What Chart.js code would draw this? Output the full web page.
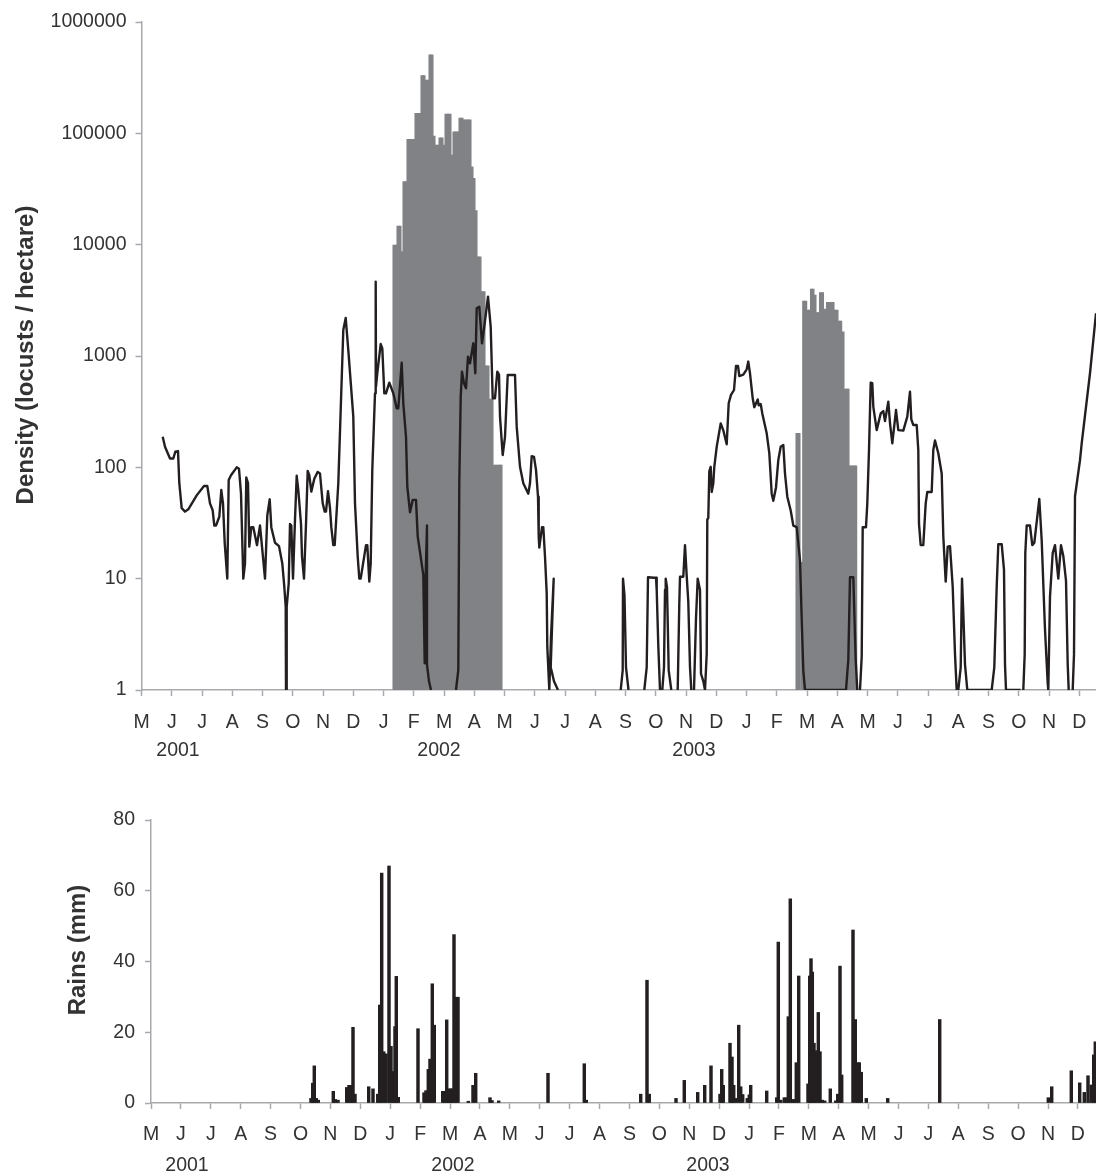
<!DOCTYPE html>
<html>
<head>
<meta charset="utf-8">
<title>Locust density and rains</title>
<script src="https://cdn.jsdelivr.net/npm/chart.js@4"></script>
<style>
  html, body { margin: 0; background: #fff; }
  canvas { position: absolute; left: 0; display: block; }
  #densityChart { top: 0; }
  #rainChart { top: 780px; }
</style>
</head>
<body>
<canvas id="densityChart" width="1096" height="780"></canvas>
<canvas id="rainChart" width="1096" height="396"></canvas>
<script>
// x axis is days counted from May 2001
const monthLabels = ['M','J','J','A','S','O','N','D','J','F','M','A','M','J','J','A','S','O','N','D','J','F','M','A','M','J','J','A','S','O','N','D'];
const yearLabels = ['2001', '2002', '2003'];
const densityTicks = [1, 10, 100, 1000, 10000, 100000, 1000000];
const rainTicks = [0, 20, 40, 60, 80];

// locusts per hectare, black line. null = a break in the line
const densityDays = [21.2,23.5,28.5,31.8,33.8,36.5,37.8,40.2,43.5,46.8,55.2,62.5,65.8,68.5,71.2,72.8,74.5,77.8,79.8,81.5,83.2,85.8,87.2,89.5,95.2,97.5,99.5,101.8,103.5,104.8,106.5,107.8,109.8,111.8,115.5,118.5,120.5,123.5,125.8,128.2,129.8,133.5,137.5,140.8,142.8,144.2,144.5,145.2,147.2,148.5,149.8,151.5,153.5,155.2,156.8,159.5,160.5,162.5,164.5,166.2,167.8,169.8,172.8,176.2,178.5,181.2,183.2,184.5,186.5,188.5,189.8,191.8,193.2,196.8,199.2,201.8,204.2,206.8,211.8,213.5,216.2,217.8,219.2,224.5,225.8,227.8,229.2,230.8,233.5,234.2,234.5,235.8,239.2,240.8,242.8,244.5,247.8,251.8,255.2,256.8,260.2,261.8,264.5,265.8,268.5,271.2,274.5,276.2,281.8,283.2,283.8,285.5,285.5,287.5,289.5,300,
  314.5,316.8,317.8,319.2,320.5,322.5,324.5,326.5,328.5,331.8,333.8,335.2,337.8,340.5,343.2,346.5,349.2,351.2,353.5,355.8,357.5,358.5,361.2,363.5,366.2,373.5,375.2,378.5,381.8,386.8,388.5,390.2,392.5,394.5,396.5,397.2,397.8,400.5,401.8,403.5,405.2,405.8,407.8,409.5,412.2,410.2,409.2,412.5,416.5,450,
  479.2,481.2,481.5,483,484.5,487,495,
  502.8,505.2,506.5,512.5,514.5,515.2,516.8,518.5,519.5,
  520.8,522.5,523.5,524.2,525.5,527.2,529.8,533,
  536.2,537.8,538.5,541.8,543.5,545.2,546.8,548.5,549.8,551,
  552.5,554.5,556.2,558.5,559.5,561.8,563.5,565.2,565.8,566.8,567.8,569.2,570.2,571.8,572.8,575.2,579.2,581.8,585.2,587.2,589.5,592.5,594.5,596.5,597.8,601.8,605.2,606.8,608.5,611.2,612.8,616.2,617.2,619.2,620.8,625.2,627.8,630.2,631.8,634.5,636.8,639.2,641.8,643.5,645.8,649.2,651.8,655.2,658.5,660.2,661.8,663.5,667.8,703.5,704.5,706.8,708.5,711.8,714.2,715.8,717,
  718.5,720.2,721.2,724.5,725.8,727.5,729.2,730.8,731.8,735.2,739.2,741.8,743.5,746.8,748.5,750.8,754.5,756.8,761.8,765.8,768.5,769.8,771.8,775.2,776.8,777.5,779.2,781.8,784.2,785.8,790.2,791.8,793.5,796.8,800.2,801.8,804.2,806.2,808.5,811.2,813.5,815.2,816,
  816.8,819.2,820.5,821.8,823.5,825.8,850.2,852.8,855.2,856.8,860.2,862.5,863.5,864.5,879.2,880.5,
  881.8,883.2,883.8,885.2,888.5,890.8,892.8,895.8,897.8,900.2,903.5,906.2,906.8,908.5,911.2,913.5,916.8,919.5,921.8,924.5,926.2,927.2,929,
  931.2,932.5,933.5,938.5,940.2,948.5,954.5];
const densityValues = [188,153,120,120,138,140,72,43,40,42,56,68,68,47.5,41,30,30,36,62.5,47.5,21,10,77,85,100,97,58,10,13.7,81,72,19.4,29,29,20,30,19.4,10,37,51.6,29,21,19.6,13.7,8.5,5.6,1,5.6,9,31,30,10,34,84,62.5,31,15.8,10,31,93,85,60.5,79,91,88,47.5,40,40,61,43,29,20,20,72,327,1710,2200,1130,285,47.5,15.8,10,10,20,20,9.4,13.7,95,462,4650,530,700,1280,1170,462,462,576,462,339,339,870,376,188,67,39.5,51,51,24,10.8,1.74,7.9,30,1.68,1.2,1,null,
  1,1.51,72,431,724,568,513,986,859,1300,699,2680,2770,1300,1960,3410,1830,417,417,724,680,285,129,188,676,676,232,101,72,58,72,126,124,95,54.5,24,19,29,29,15.8,7.4,2.45,1,3,10,3,1.6,1.2,1,null,
  1,1.5,10,7,1.6,1,null,
  1,1.6,10.3,10.2,10.2,7.9,2.5,1,null,
  1,1.6,7.9,10,8.4,1.5,1,null,
  1,6,10.4,10.4,20,10.6,6.2,1.6,1,null,
  1,4.4,10,7.9,1.4,1.2,1,2.1,34,35,92,101,60,72,101,153,248,215,161,376,447,495,813,813,661,680,759,891,698,417,347,407,360,370,305,202,134,58,50,66,116,153,159,88,54.5,41,30,29,14.7,4.3,1.5,1,1,1,1,1.86,10.3,10.3,1.86,1,null,
  1,2,29,29,47.5,143,576,570,351,216,305,320,260,389,250,164,327,216,214,285,478,270,240,240,143,31,20,20,47.5,60,60,143,174,134,88,24,9.4,19.4,19.6,8.5,2.1,1,null,
  1,1.6,10,4.9,1.7,1,1,1.6,8.5,20.4,20.4,12,1.7,1,1,null,
  1,2.1,17,30,30,20,21,36,52,22,3.5,1.15,1,6.9,17,20,10,20,16,9.6,1.7,1,null,
  1,2.1,55,116,164,700,2420];

// grey bars, two outbreaks
const swarmDays = [252.5,254.5,256.5,258.5,260.5,262.5,264.5,266.5,268.5,270.5,272.5,274.5,276.5,278.5,280.5,282.5,284.5,286.5,288.5,290.5,292.5,294.5,296.5,298.5,300.5,302.5,304.5,306.5,308.5,310.5,312.5,314.5,316.5,318.5,320.5,322.5,324.5,326.5,328.5,330.5,332.5,334.5,336.5,338.5,340.5,342.5,344.5,346.5,348.5,350.5,352.5,354.5,356.5,358.5,359.5,
  655.5,657.5,660.3,662.2,664.2,666.2,668.2,670,671.5,673.5,675.5,677,679,681,683.5,686,688,690,691.5,693.5,695.5,697.8,699.2,701.5,703.8,705.8,706.5,708.5,710.5,712.5,714.2];
const swarmValues = [9900,9900,14700,14700,8650,36800,36800,88300,88300,88300,88300,151000,151000,151000,330000,330000,301000,301000,506000,506000,94600,78500,78500,91000,91000,78500,149000,149000,149000,63900,103000,103000,103000,137000,137000,132000,132000,132000,132000,50000,39400,20200,7790,7790,3790,3790,818,818,410,410,105,105,105,105,105,
  202,202,14,3120,3120,2590,2590,4000,4000,3530,2460,2460,3720,3720,2640,3030,3030,3030,3030,2590,2590,2060,2060,1650,505,505,505,103,103,103,103];

// rains in mm
const rainDays = [160,161.7,163.3,165.3,167.3,182.3,184.3,187,195.7,198,200,202,204,217.7,222,226.7,228.7,230.7,232.7,235,238,240,242.3,244,245.3,247.3,267,273,275,277.3,279,281.3,283.3,291.7,293.7,295.7,297.7,299.7,301,303,305,307,317.3,322,324.7,339,341,347.7,397,433.3,435.3,
  489.7,496,498.3,525,533.3,546.7,553.7,560,569,570.7,572.3,579,581,582.7,584.7,587.7,589.7,591.7,596.3,598.3,599.7,615.7,625.7,627.3,629.7,633.3,635.3,637.3,639.3,641.3,643.3,645.3,647.7,657,658.7,660,661.3,663,664.7,667.3,669,671.3,673.7,679.3,684.7,686.7,689,690.7,702,704.3,706.7,708.3,710.3,715.3,736.7,788.7,
  897.3,900.7,920.3,928.7,933.3,937,940.3,942.7,944.3];
const rainValues = [1.3,5.6,10.5,1.3,0.8,3.3,1,0.8,4.4,5,5,21.4,2.5,4.6,4,2.5,27.7,65,14.5,13.9,67,16,8.9,21.6,35.8,1.6,21,2.9,3.5,9.5,12.4,33.7,22,3.3,3.3,23.5,4,4,4,47.6,29.9,29.9,0.5,5,8.4,1.5,0.7,0.6,8.4,11.1,0.8,
  2.5,34.7,2.5,1.3,6.4,3,5,10.5,2.5,9.5,5,16.9,13,5,1.3,22,4.6,2.4,1.3,2.3,5,3.4,1.5,45.5,0.8,1.5,1.5,24.4,57.7,1,1,11.4,35.9,5.4,35.9,40.8,37,16.9,14.8,25.6,14.5,0.8,0.6,4,0.6,2.5,38.7,7.9,48.9,23.6,11.4,11.4,8.7,1.3,1.3,23.6,
  1.5,4.6,9.1,5.7,3,7.7,5.1,13.6,17.3];

// month step and year label spots differ a bit between the two panels
const densityMonthStep = 30.25;
const rainMonthStep = 29.9;
const densityYearDays = [36.5, 297.5, 552.5];
const rainYearDays = [36, 302, 557];

const axisGrey = '#a7a9ac';
const textGrey = '#333333';
const fontName = '"Liberation Sans", Arial, sans-serif';

function toPoints(xs, ys) {
  return xs.map((x, i) => ({ x: x, y: ys[i] }));
}

// year labels under the months, and the rotated axis title (not centred on the rains panel)
function panelText(days, yearY, title, titleX, titleY) {
  return {
    id: 'panelText',
    afterDraw(chart) {
      const ctx = chart.ctx;
      ctx.save();
      ctx.font = '19.5px ' + fontName;
      ctx.fillStyle = textGrey;
      ctx.textAlign = 'center';
      ctx.textBaseline = 'middle';
      yearLabels.forEach((label, i) => {
        ctx.fillText(label, chart.scales.x.getPixelForValue(days[i]), yearY);
      });
      ctx.translate(titleX, titleY);
      ctx.rotate(-Math.PI / 2);
      ctx.font = 'bold 24px ' + fontName;
      ctx.textBaseline = 'alphabetic';
      ctx.fillText(title, 0, 0);
      ctx.restore();
    }
  };
}

function xAxis(maxDay, step, height, labelGap) {
  return {
    type: 'linear',
    min: 0,
    max: maxDay,
    offset: false,
    afterBuildTicks(scale) {
      scale.ticks = monthLabels.map((m, i) => ({ value: i * step }));
    },
    afterFit(scale) {
      scale.height = height;
      // the panel runs right up to the page edge
      scale.paddingRight = 0;
    },
    border: { color: axisGrey, width: 1.5 },
    grid: { offset: false, drawOnChartArea: false, color: axisGrey, tickLength: 6, tickWidth: 1.5 },
    ticks: {
      autoSkip: false,
      maxRotation: 0,
      minRotation: 0,
      padding: labelGap,
      color: textGrey,
      font: { family: fontName, size: 19.5 },
      callback(value, index) { return monthLabels[index]; }
    }
  };
}

function yAxis(width, gap) {
  return {
    afterFit(scale) { scale.width = width; },
    border: { color: axisGrey, width: 1.5 },
    grid: { drawOnChartArea: false, color: axisGrey, tickLength: 6, tickWidth: 1.5 },
    ticks: {
      padding: gap,
      color: textGrey,
      font: { family: fontName, size: 19.5 }
    }
  };
}

const densityY = yAxis(141.5, 9);
densityY.type = 'logarithmic';
densityY.min = 1;
densityY.max = 1000000;
densityY.afterBuildTicks = (scale) => {
  scale.ticks = densityTicks.map((v) => ({ value: v }));
};
densityY.ticks.callback = (value) => String(value);

new Chart(document.getElementById('densityChart').getContext('2d'), {
  type: 'bar',
  data: {
    datasets: [{
      type: 'line',
      data: toPoints(densityDays, densityValues),
      borderColor: '#231f20',
      borderWidth: 2.4,
      borderJoinStyle: 'round',
      pointRadius: 0,
      tension: 0,
      spanGaps: false,
      order: 0
    }, {
      type: 'bar',
      data: toPoints(swarmDays, swarmValues),
      backgroundColor: '#808285',
      barThickness: 2.4,
      grouped: false,
      order: 1
    }]
  },
  options: {
    responsive: false,
    animation: false,
    events: [],
    layout: { padding: { top: 22, left: 0, right: 0, bottom: 0 } },
    plugins: { legend: { display: false }, tooltip: { enabled: false } },
    scales: { x: xAxis(954.5, densityMonthStep, 90, 15), y: densityY }
  },
  plugins: [panelText(densityYearDays, 751, 'Density (locusts / hectare)', 33, 355)]
});

const rainY = yAxis(151, 10);
rainY.type = 'linear';
rainY.min = 0;
rainY.max = 80;
rainY.afterBuildTicks = (scale) => {
  scale.ticks = rainTicks.map((v) => ({ value: v }));
};

new Chart(document.getElementById('rainChart').getContext('2d'), {
  type: 'bar',
  data: {
    datasets: [{
      data: toPoints(rainDays, rainValues),
      backgroundColor: '#231f20',
      barThickness: 2.8,
      grouped: false
    }]
  },
  options: {
    responsive: false,
    animation: false,
    events: [],
    layout: { padding: { top: 40, left: 0, right: 0, bottom: 0 } },
    plugins: { legend: { display: false }, tooltip: { enabled: false } },
    scales: { x: xAxis(945, rainMonthStep, 73, 14), y: rainY }
  },
  plugins: [panelText(rainYearDays, 386, 'Rains (mm)', 85, 170)]
});
</script>
</body>
</html>
